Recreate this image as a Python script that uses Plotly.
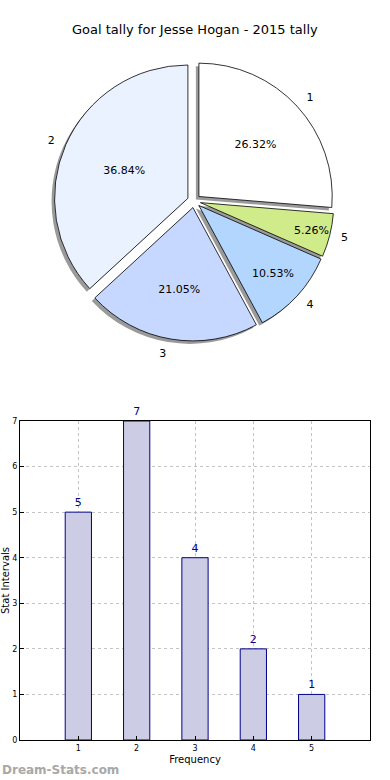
import plotly.graph_objects as go

categories = ["1", "2", "3", "4", "5"]
goals = [5, 7, 4, 2, 1]
x_values = [1, 2, 3, 4, 5]
slice_colors = ["#ffffff", "#eaf1ff", "#c6d8ff", "#b3d6ff", "#cfeb8a"]
y_ticks = [0, 1, 2, 3, 4, 5, 6, 7]

W, H = 390, 780
pull = [0.05] * 5

cx, cy, half = 194, 201, 140
def px_x(p):
    return p / W
def px_y(p):
    return 1 - p / H

def dom(c_x, c_y, h):
    return dict(x=[px_x(c_x - h), px_x(c_x + h)], y=[px_y(c_y + h), px_y(c_y - h)])

sh = 3
pie_common = dict(labels=categories, values=goals, sort=False,
                  direction="counterclockwise", rotation=0, pull=pull)

fig = go.Figure()

fig.add_trace(go.Pie(
    **pie_common, domain=dom(cx - sh, cy + sh, half),
    marker=dict(colors=["rgba(120,120,120,0.75)"] * 5, line=dict(width=0)),
    textinfo="none", hoverinfo="skip", showlegend=False,
))
fig.add_trace(go.Pie(
    **pie_common, domain=dom(cx, cy, half),
    marker=dict(colors=slice_colors, line=dict(color="#000000", width=0.8)),
    texttemplate="%{percent:.2%}", textposition="inside",
    insidetextorientation="horizontal",
    textfont=dict(family="DejaVu Sans", size=11, color="#000000"),
    showlegend=False,
))
fig.add_trace(go.Pie(
    **pie_common, domain=dom(cx, cy, half * 1.06),
    marker=dict(colors=["rgba(0,0,0,0)"] * 5, line=dict(width=0)),
    textinfo="label", textposition="outside",
    textfont=dict(family="DejaVu Sans", size=11, color="#000000"),
    hoverinfo="skip", showlegend=False,
))

fig.add_trace(go.Bar(
    x=x_values, y=goals, width=0.45,
    marker=dict(color="#ccccE5", line=dict(color="#00008b", width=1)),
    text=[str(v) for v in goals], textposition="outside",
    textfont=dict(family="DejaVu Sans", size=11, color="#00008b"),
    cliponaxis=False, showlegend=False, xaxis="x", yaxis="y",
))

grid = dict(showgrid=True, gridcolor="#c4c4c4", griddash="dot", gridwidth=1)
fig.update_layout(
    width=W, height=H,
    margin=dict(l=0, r=0, t=0, b=0),
    paper_bgcolor="white", plot_bgcolor="white",
    font=dict(family="DejaVu Sans", color="#000000"),
    xaxis=dict(domain=[px_x(20), px_x(370)], range=[0, 6], automargin=False,
               tickvals=x_values, ticktext=categories,
               tickfont=dict(size=8), ticks="inside", ticklen=4, tickcolor="#000000",
               showline=True, mirror=True, linecolor="#000000", linewidth=1,
               zeroline=False, anchor="y",
               title=dict(text="Frequency", font=dict(size=10), standoff=4),
               **grid),
    yaxis=dict(domain=[px_y(740), px_y(421)], range=[0, 7], automargin=False,
               tickvals=y_ticks, tickfont=dict(size=8),
               ticks="inside", ticklen=4, tickcolor="#000000",
               showline=True, mirror=True, linecolor="#000000", linewidth=1,
               zeroline=False, anchor="x",
               title=dict(text="Stat Intervals", font=dict(size=10), standoff=2),
               **grid),
    annotations=[
        dict(text="Goal tally for Jesse Hogan - 2015 tally", xref="paper", yref="paper",
             x=0.5, y=px_y(30), xanchor="center", yanchor="middle", showarrow=False,
             font=dict(family="DejaVu Sans", size=13, color="#000000")),
        dict(text="<b>Dream-Stats.com</b>", xref="paper", yref="paper",
             x=0, y=px_y(770), xanchor="left", yanchor="middle",
             showarrow=False,
             font=dict(family="DejaVu Sans", size=12, color="#a8a8a8")),
    ],
)

fig.write_html("out.html", config={"displayModeBar": False},
               post_script="document.body.style.margin='0';document.body.style.overflow='hidden';")
